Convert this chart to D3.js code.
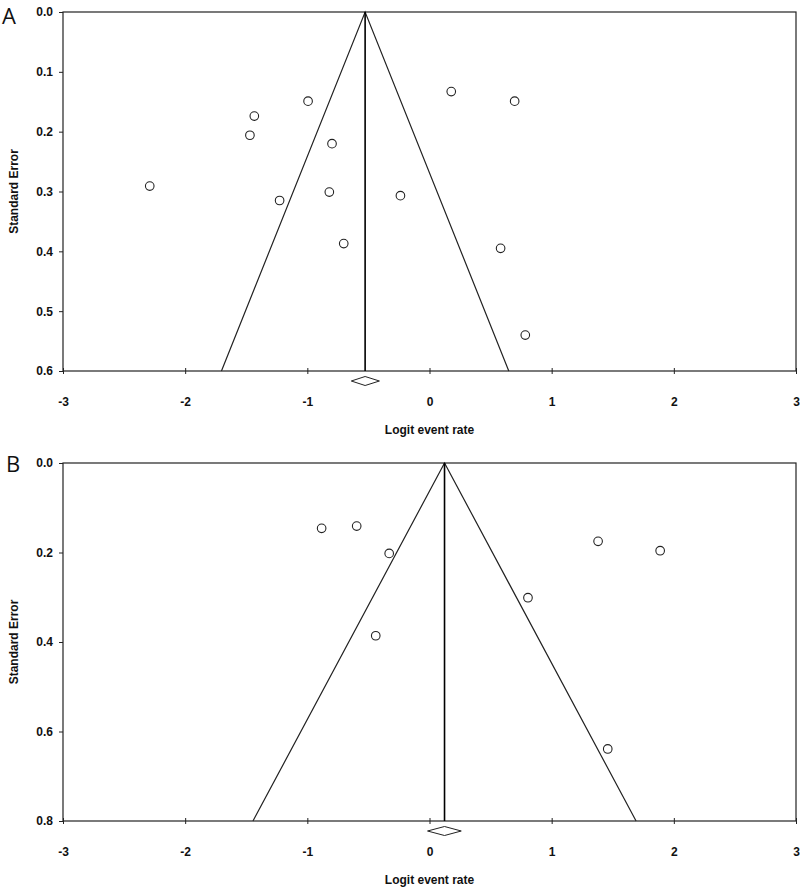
<!DOCTYPE html>
<html><head><meta charset="utf-8">
<script src="https://cdn.jsdelivr.net/npm/d3@7"></script>
<style>body{margin:0;background:#fff}svg{display:block}</style>
</head><body>
<svg id="c" width="800" height="887"></svg>
<script>
// Panel A data
const aLogit = [-2.29,-1.434,-1.47,-0.994,-0.798,-0.82,-1.227,-0.238,-0.702,0.178,0.697,0.582,0.784];
const aSE    = [0.291,0.174,0.206,0.149,0.220,0.301,0.315,0.307,0.387,0.133,0.149,0.395,0.540];
const aMean = -0.527, aCI = [-0.64,-0.41];
const aYTicks = [0,0.1,0.2,0.3,0.4,0.5,0.6];
// Panel B data
const bLogit = [-0.883,-0.596,-0.33,-0.44,1.38,1.888,0.806,1.459];
const bSE    = [0.146,0.141,0.202,0.386,0.175,0.196,0.301,0.639];
const bMean = 0.123, bCI = [-0.016,0.26];
const bYTicks = [0,0.2,0.4,0.6,0.8];
const xTicks = [-3,-2,-1,0,1,2,3];

const svg = d3.select("#c");
const ink = "#222";
const FS = 12;

function panel(cfg){
  const g = svg.append("g");
  const x = d3.scaleLinear().domain([-3,3]).range([63,796]);
  const y = d3.scaleLinear().domain([0,cfg.ymax]).range([cfg.top,cfg.bottom]);
  g.append("rect").attr("x",x(-3)).attr("y",y(0)).attr("width",x(3)-x(-3)).attr("height",y(cfg.ymax)-y(0))
    .attr("fill","none").attr("stroke",ink).attr("stroke-width",1.2);
  const ya = g.append("g").attr("transform",`translate(${x(-3)},0)`)
    .call(d3.axisLeft(y).tickValues(cfg.yTicks).tickFormat(d3.format(".1f")).tickSize(4).tickPadding(6));
  ya.select(".domain").remove();
  ya.selectAll("line").attr("stroke",ink);
  ya.selectAll("text").attr("font-family","Liberation Sans, Arial, sans-serif").attr("font-weight","bold").attr("font-size",FS).attr("fill","#111");
  const xa = g.append("g").attr("transform",`translate(0,${y(cfg.ymax)})`)
    .call(d3.axisBottom(x).tickValues(xTicks).tickFormat(d3.format("d")).tickSize(3).tickPadding(23));
  xa.select(".domain").remove();
  xa.selectAll("line").attr("stroke",ink).attr("y1",-3);
  xa.selectAll("text").attr("font-family","Liberation Sans, Arial, sans-serif").attr("font-weight","bold").attr("font-size",FS).attr("fill","#111")
    .text(d=> d<0 ? "-"+Math.abs(d) : d);
  const z = 1.96;
  g.append("path").attr("fill","none").attr("stroke",ink).attr("stroke-width",1.2)
    .attr("d", d3.line()([[x(cfg.mean - z*cfg.ymax), y(cfg.ymax)],[x(cfg.mean), y(0)],[x(cfg.mean + z*cfg.ymax), y(cfg.ymax)]]));
  g.append("line").attr("x1",x(cfg.mean)).attr("x2",x(cfg.mean)).attr("y1",y(0)).attr("y2",y(cfg.ymax))
    .attr("stroke","#000").attr("stroke-width",1.6);
  const dy = y(cfg.ymax)+10;
  g.append("path").attr("fill","#fff").attr("stroke",ink).attr("stroke-width",1)
    .attr("d", d3.line()([[x(cfg.ci[0]),dy],[x(cfg.mean),dy-4.5],[x(cfg.ci[1]),dy],[x(cfg.mean),dy+4.5]])+"Z");
  g.selectAll("circle.pt").data(cfg.xs.map((v,i)=>[v,cfg.ses[i]])).join("circle")
    .attr("class","pt").attr("cx",d=>x(d[0])).attr("cy",d=>y(d[1])).attr("r",4.3)
    .attr("fill","#fff").attr("stroke",ink).attr("stroke-width",1.1);
  g.append("text").attr("x",(x(-3)+x(3))/2).attr("y",y(cfg.ymax)+63)
    .attr("text-anchor","middle").attr("font-family","Liberation Sans, Arial, sans-serif").attr("font-weight","bold").attr("font-size",FS)
    .attr("fill","#111").text("Logit event rate");
  const cy = (y(0)+y(cfg.ymax))/2;
  g.append("text").attr("transform",`translate(18,${cy}) rotate(-90)`)
    .attr("text-anchor","middle").attr("font-family","Liberation Sans, Arial, sans-serif").attr("font-weight","bold").attr("font-size",FS)
    .attr("fill","#111").text("Standard Error");
  g.append("text").attr("x",cfg.lx).attr("y",cfg.ly).attr("font-family","Open Sans, sans-serif").attr("font-size",22)
    .attr("fill","#111").text(cfg.letter);
}

panel({top:12,bottom:371,ymax:0.6,yTicks:aYTicks,mean:aMean,ci:aCI,xs:aLogit,ses:aSE,letter:"A",lx:2,ly:24});
panel({top:463,bottom:821,ymax:0.8,yTicks:bYTicks,mean:bMean,ci:bCI,xs:bLogit,ses:bSE,letter:"B",lx:6,ly:472});
</script>
</body></html>
